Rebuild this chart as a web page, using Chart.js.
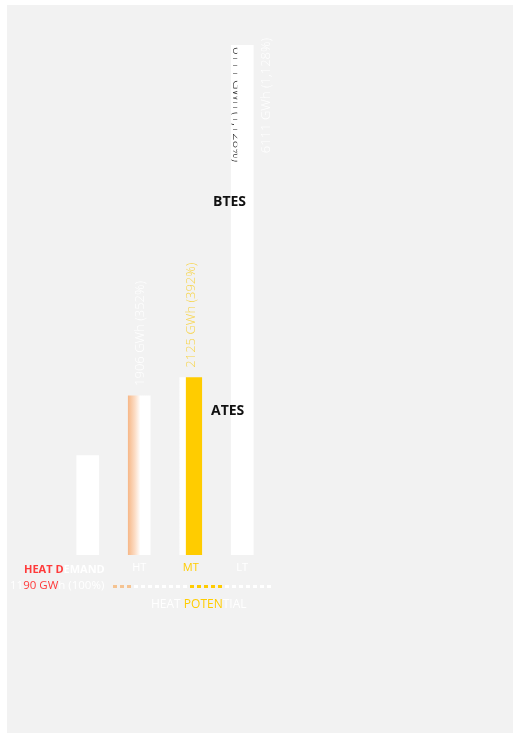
<!DOCTYPE html>
<html>
<head>
<meta charset="utf-8">
<script src="https://cdn.jsdelivr.net/npm/chart.js@4"></script>
<style>
  html, body { margin: 0; padding: 0; background: #ffffff; }
  #wrap { position: absolute; left: 0; top: 0; width: 513px; height: 733px; }
</style>
</head>
<body>
<div id="wrap"><canvas id="heatChart" width="513" height="733"></canvas></div>
<script>
// Heat demand vs. heat potential (GWh)
const categories = ['DEMAND', 'HT', 'MT', 'LT'];
const energyGWh = [1190, 1906, 2125, 6111];
const valueLabels = ['', '1906 GWh (352%)', '2125 GWh (392%)', '6111 GWh (1,128%)'];
const tickLabels = ['', 'HT', 'MT', 'LT'];
const storageNames = ['ATES', 'BTES'];

const YELLOW = '#ffcc00';
const RED = '#ff3a3a';
const BAR_W = 22;

function barFill(ctx) {
  const chart = ctx.chart;
  const xs = chart.scales && chart.scales.x;
  if (!xs || ctx.dataIndex === 0 || ctx.dataIndex === 3) return '#ffffff';
  const cx = xs.getPixelForValue(ctx.dataIndex);
  if (!isFinite(cx)) return '#ffffff';
  const g = chart.ctx.createLinearGradient(cx - BAR_W / 2, 0, cx + BAR_W / 2, 0);
  if (ctx.dataIndex === 1) {
    g.addColorStop(0, '#f7b98a');
    g.addColorStop(0.3, '#fcdcc4');
    g.addColorStop(0.55, '#ffffff');
    g.addColorStop(1, '#ffffff');
  } else {
    g.addColorStop(0, '#ffffff');
    g.addColorStop(0.26, '#ffffff');
    g.addColorStop(0.27, YELLOW);
    g.addColorStop(1, YELLOW);
  }
  return g;
}

// grey panel behind everything
const panel = {
  id: 'panel',
  beforeDraw(chart) {
    const c = chart.ctx;
    c.save();
    c.fillStyle = '#f2f2f2';
    c.fillRect(7, 5, chart.width - 7, chart.height - 5);
    c.restore();
  }
};

// draws a line of text in coloured pieces
function pieces(c, parts, x, y) {
  let cx = x;
  parts.forEach(([txt, col]) => {
    c.fillStyle = col;
    c.fillText(txt, cx, y);
    cx += c.measureText(txt).width;
  });
  return cx;
}

const annotations = {
  id: 'annotations',
  afterDatasetsDraw(chart) {
    const c = chart.ctx;
    const bars = chart.getDatasetMeta(0).data;
    const y = chart.scales.y;
    const base = y.getPixelForValue(0);
    c.save();

    // rotated value labels
    c.font = '300 13px "Open Sans"';
    c.textBaseline = 'middle';
    const labelCols = ['#ffffff', '#ffffff', '#f7d44a', '#ffffff'];
    bars.forEach((b, i) => {
      if (!valueLabels[i]) return;
      c.save();
      if (i === 3) {
        const w = c.measureText(valueLabels[i]).width;
        c.translate(b.x + BAR_W / 2 + 13, b.y - 7 + w);
      } else {
        c.translate(b.x + 1, b.y - 10);
      }
      c.rotate(-Math.PI / 2);
      c.textAlign = 'left';
      c.fillStyle = labelCols[i];
      c.fillText(valueLabels[i], 0, 0);
      c.restore();
    });

    // dark copy of the LT label bleeding along the bar edge
    const lt = bars[3];
    c.save();
    c.beginPath();
    c.rect(lt.x - BAR_W / 2, lt.y, 6, 125);
    c.clip();
    c.translate(lt.x - BAR_W / 2 + 5, lt.y + 2);
    c.rotate(Math.PI / 2);
    c.fillStyle = '#222222';
    c.textAlign = 'left';
    c.fillText(valueLabels[3], 0, 0);
    c.restore();

    // category ticks under the bars
    c.font = '11px "Open Sans"';
    c.textAlign = 'center';
    c.textBaseline = 'middle';
    const tickCols = ['#ffffff', '#ffffff', YELLOW, '#ffffff'];
    bars.forEach((b, i) => {
      if (!tickLabels[i]) return;
      c.fillStyle = tickCols[i];
      c.fillText(tickLabels[i], b.x, base + 13);
    });

    // heat demand caption
    c.textAlign = 'left';
    c.font = 'bold 11px "Open Sans"';
    pieces(c, [['HEAT D', RED], ['EMAND', '#ffffff']], 24, base + 15);
    c.font = '11.5px "Open Sans"';
    pieces(c, [['11', '#ffffff'], ['90 GW', RED], ['h (100%)', '#ffffff']], 10, base + 31);

    // dotted bracket for heat potential
    const x0 = bars[1].x - 26, x1 = bars[3].x + 26;
    for (let x = x0; x <= x1; x += 7) {
      let col = '#ffffff';
      if (x < bars[1].x - 5) col = '#f5c391';
      else if (x > bars[2].x - 6 && x < bars[2].x + 28) col = YELLOW;
      c.fillStyle = col;
      c.fillRect(Math.round(x), base + 30, 4, 3);
    }
    c.font = '12px "Open Sans"';
    const t = 'HEAT POTENTIAL';
    const w = c.measureText(t).width;
    pieces(c, [['HEAT ', '#ffffff'], ['POTEN', YELLOW], ['TIAL', '#ffffff']], bars[2].x + 8 - w / 2, base + 50);

    // storage type labels
    c.font = 'bold 14px "Open Sans"';
    c.fillStyle = '#111111';
    c.textAlign = 'left';
    c.fillText(storageNames[0], 211, y.getPixelForValue(1725));
    c.fillText(storageNames[1], 213, y.getPixelForValue(4235));

    c.restore();
  }
};

new Chart(document.getElementById('heatChart'), {
  type: 'bar',
  data: {
    labels: categories,
    datasets: [{
      data: energyGWh,
      backgroundColor: barFill,
      borderWidth: 0,
      barThickness: BAR_W
    }]
  },
  options: {
    responsive: false,
    animation: false,
    layout: { padding: { left: 62, right: 245, top: 45, bottom: 178 } },
    plugins: { legend: { display: false }, tooltip: { enabled: false } },
    scales: {
      x: { display: false },
      y: { display: false, min: 0, max: 6111 }
    }
  },
  plugins: [panel, annotations]
});
</script>
</body>
</html>
